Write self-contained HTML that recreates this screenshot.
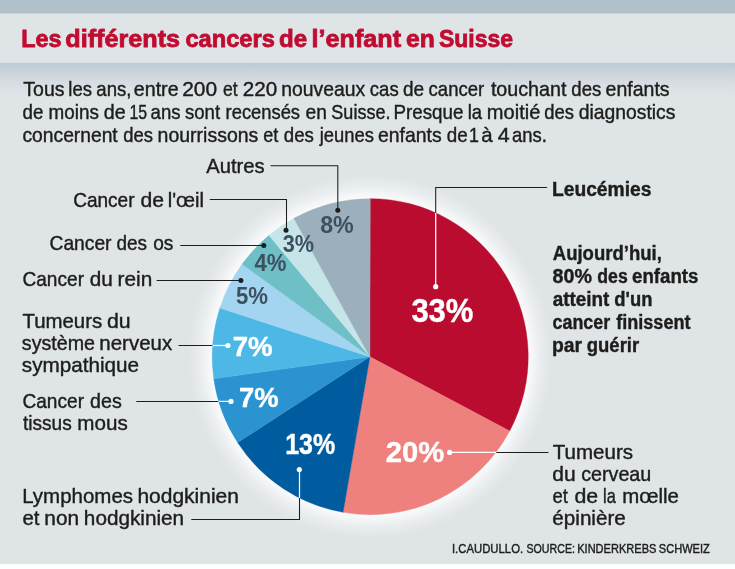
<!DOCTYPE html>
<html lang="fr"><head><meta charset="utf-8"><title>Les différents cancers de l’enfant en Suisse</title>
<style>
html,body{margin:0;padding:0;background:#ffffff;}
body{width:735px;height:569px;overflow:hidden;}
svg{display:block;}
text{font-family:"Liberation Sans",Arial,sans-serif;}
</style></head><body>
<svg width="735" height="569" viewBox="0 0 735 569">
<defs>
<linearGradient id="bg" x1="0" y1="0" x2="0" y2="1">
<stop offset="0" stop-color="#bccad3"/><stop offset="0.25" stop-color="#c9d2d9"/><stop offset="0.55" stop-color="#d6dce1"/><stop offset="0.85" stop-color="#dde2e6"/><stop offset="1" stop-color="#dfe4e7"/>
</linearGradient>
<radialGradient id="glow" cx="370.2" cy="356.65" r="182.0" gradientUnits="userSpaceOnUse">
<stop offset="0.8681" stop-color="#ffffff" stop-opacity="0.85"/>
<stop offset="0.9341" stop-color="#ffffff" stop-opacity="0.35"/>
<stop offset="1" stop-color="#ffffff" stop-opacity="0"/>
</radialGradient>
</defs>
<rect x="0" y="0" width="735" height="569" fill="#ffffff"/>
<rect x="0" y="0" width="735" height="564" fill="#dfe4e7"/>
<rect x="0" y="62.6" width="735" height="34.4" fill="url(#bg)"/>
<rect x="0" y="0" width="735" height="13.7" fill="#b0c1ca"/>
<rect x="0" y="13.7" width="735" height="49" fill="#dfe4e7"/>
<circle cx="370.2" cy="356.65" r="182.0" fill="url(#glow)"/>
<path d="M369.9 356.85L370.20 198.65A158.0 158.0 0 0 1 509.64 430.95Z" fill="#ba0c2f" stroke="#ba0c2f" stroke-width="0.4"/>
<path d="M369.9 356.85L509.64 430.95A158.0 158.0 0 0 1 343.04 512.30Z" fill="#ee807e" stroke="#ee807e" stroke-width="0.4"/>
<path d="M369.9 356.85L343.04 512.30A158.0 158.0 0 0 1 237.62 442.59Z" fill="#005b9f" stroke="#005b9f" stroke-width="0.4"/>
<path d="M369.9 356.85L237.62 442.59A158.0 158.0 0 0 1 213.75 378.75Z" fill="#2b93cf" stroke="#2b93cf" stroke-width="0.4"/>
<path d="M369.9 356.85L213.75 378.75A158.0 158.0 0 0 1 219.85 308.09Z" fill="#4db8e6" stroke="#4db8e6" stroke-width="0.4"/>
<path d="M369.9 356.85L219.85 308.09A158.0 158.0 0 0 1 242.13 264.11Z" fill="#a3d4f0" stroke="#a3d4f0" stroke-width="0.4"/>
<path d="M369.9 356.85L242.13 264.11A158.0 158.0 0 0 1 268.96 235.35Z" fill="#6fbfc6" stroke="#6fbfc6" stroke-width="0.4"/>
<path d="M369.9 356.85L268.96 235.35A158.0 158.0 0 0 1 293.84 218.33Z" fill="#c5e5e8" stroke="#c5e5e8" stroke-width="0.4"/>
<path d="M369.9 356.85L293.84 218.33A158.0 158.0 0 0 1 370.20 198.65Z" fill="#9bb0bc" stroke="#9bb0bc" stroke-width="0.4"/>

<g fill="none" stroke-width="1.05" stroke="#1d1d1b">
<path d="M270.5 165.7H337.8V210.3"/>
<path d="M209.8 199.5H286.5V230"/>
<path d="M180.3 245.5H263.8"/>
<path d="M156.6 280.4H240.9"/>
<path d="M178.5 345.5H212.6"/>
<path d="M136.3 401.4H218.5"/>
<path d="M191.3 519.4H299.5V498"/>
<path d="M547.1 187.4H435.7V213"/>
<path d="M548.4 452.4H496.2"/>
</g>
<g fill="none" stroke-width="1.25" stroke="#fff">
<path d="M212.6 345.5H228"/>
<path d="M218.5 401.4H231"/>
<path d="M299.5 498V469"/>
<path d="M435.7 213V286.7"/>
<path d="M496.2 452.4H449.6"/>
</g>
<g fill="#1d1d1b">
<circle cx="337.8" cy="210.3" r="2.5"/><circle cx="286.0" cy="230.3" r="2.5"/><circle cx="263.8" cy="245.5" r="2.5"/><circle cx="240.9" cy="280.5" r="2.5"/>
</g>
<g fill="#fff">
<circle cx="227.9" cy="345.5" r="2.6"/><circle cx="231" cy="401.4" r="2.6"/><circle cx="299.3" cy="469.5" r="2.6"/><circle cx="435.7" cy="286.7" r="2.6"/><circle cx="449.6" cy="452.4" r="2.6"/>
</g>

<text y="46.90" font-size="24.5" fill="#c10b30" font-weight="700" stroke="#c10b30" stroke-width="0.8"><tspan x="21.23" textLength="40.33" lengthAdjust="spacingAndGlyphs">Les</tspan> <tspan x="65.27" textLength="114.77" lengthAdjust="spacingAndGlyphs">différents</tspan> <tspan x="185.38" textLength="89.49" lengthAdjust="spacingAndGlyphs">cancers</tspan> <tspan x="279.11" textLength="28.11" lengthAdjust="spacingAndGlyphs">de</tspan> <tspan x="311.64" textLength="89.46" lengthAdjust="spacingAndGlyphs">l’enfant</tspan> <tspan x="406.14" textLength="28.79" lengthAdjust="spacingAndGlyphs">en</tspan> <tspan x="438.93" textLength="74.05" lengthAdjust="spacingAndGlyphs">Suisse</tspan></text>
<text y="95.80" font-size="19.8" fill="#1d1d1b" stroke="#1d1d1b" stroke-width="0.4"><tspan x="23.37" textLength="41.14" lengthAdjust="spacingAndGlyphs">Tous</tspan> <tspan x="68.36" textLength="23.61" lengthAdjust="spacingAndGlyphs">les</tspan> <tspan x="96.32" textLength="35.16" lengthAdjust="spacingAndGlyphs">ans,</tspan> <tspan x="133.77" textLength="44.80" lengthAdjust="spacingAndGlyphs">entre</tspan> <tspan x="182.26" textLength="34.87" lengthAdjust="spacingAndGlyphs">200</tspan> <tspan x="223.06" textLength="14.66" lengthAdjust="spacingAndGlyphs">et</tspan> <tspan x="242.77" textLength="34.45" lengthAdjust="spacingAndGlyphs">220</tspan> <tspan x="281.32" textLength="83.89" lengthAdjust="spacingAndGlyphs">nouveaux</tspan> <tspan x="369.82" textLength="28.85" lengthAdjust="spacingAndGlyphs">cas</tspan> <tspan x="403.00" textLength="21.14" lengthAdjust="spacingAndGlyphs">de</tspan> <tspan x="428.62" textLength="55.60" lengthAdjust="spacingAndGlyphs">cancer</tspan> <tspan x="490.90" textLength="75.52" lengthAdjust="spacingAndGlyphs">touchant</tspan> <tspan x="571.32" textLength="29.95" lengthAdjust="spacingAndGlyphs">des</tspan> <tspan x="605.58" textLength="64.03" lengthAdjust="spacingAndGlyphs">enfants</tspan></text>
<text y="119.10" font-size="19.8" fill="#1d1d1b" stroke="#1d1d1b" stroke-width="0.4"><tspan x="22.51" textLength="20.82" lengthAdjust="spacingAndGlyphs">de</tspan> <tspan x="48.56" textLength="50.31" lengthAdjust="spacingAndGlyphs">moins</tspan> <tspan x="103.77" textLength="21.90" lengthAdjust="spacingAndGlyphs">de</tspan> <tspan x="129.39" textLength="17.68" lengthAdjust="spacingAndGlyphs">15</tspan> <tspan x="150.62" textLength="29.95" lengthAdjust="spacingAndGlyphs">ans</tspan> <tspan x="184.98" textLength="35.15" lengthAdjust="spacingAndGlyphs">sont</tspan> <tspan x="225.59" textLength="74.47" lengthAdjust="spacingAndGlyphs">recensés</tspan> <tspan x="305.59" textLength="21.36" lengthAdjust="spacingAndGlyphs">en</tspan> <tspan x="331.37" textLength="59.07" lengthAdjust="spacingAndGlyphs">Suisse.</tspan> <tspan x="393.56" textLength="69.88" lengthAdjust="spacingAndGlyphs">Presque</tspan> <tspan x="467.67" textLength="14.34" lengthAdjust="spacingAndGlyphs">la</tspan> <tspan x="486.88" textLength="53.52" lengthAdjust="spacingAndGlyphs">moitié</tspan> <tspan x="544.23" textLength="29.74" lengthAdjust="spacingAndGlyphs">des</tspan> <tspan x="578.79" textLength="96.61" lengthAdjust="spacingAndGlyphs">diagnostics</tspan></text>
<text y="142.40" font-size="19.8" fill="#1d1d1b" stroke="#1d1d1b" stroke-width="0.4"><tspan x="22.49" textLength="95.24" lengthAdjust="spacingAndGlyphs">concernent</tspan> <tspan x="123.13" textLength="29.74" lengthAdjust="spacingAndGlyphs">des</tspan> <tspan x="157.61" textLength="100.69" lengthAdjust="spacingAndGlyphs">nourrissons</tspan> <tspan x="263.14" textLength="15.09" lengthAdjust="spacingAndGlyphs">et</tspan> <tspan x="283.82" textLength="30.06" lengthAdjust="spacingAndGlyphs">des</tspan> <tspan x="319.74" textLength="54.12" lengthAdjust="spacingAndGlyphs">jeunes</tspan> <tspan x="377.99" textLength="63.62" lengthAdjust="spacingAndGlyphs">enfants</tspan> <tspan x="446.81" textLength="20.92" lengthAdjust="spacingAndGlyphs">de</tspan> <tspan x="468.94" textLength="9.94" lengthAdjust="spacingAndGlyphs">1</tspan> <tspan x="481.34" textLength="11.36" lengthAdjust="spacingAndGlyphs">à</tspan> <tspan x="497.71" textLength="11.92" lengthAdjust="spacingAndGlyphs">4</tspan> <tspan x="512.03" textLength="34.86" lengthAdjust="spacingAndGlyphs">ans.</tspan></text>
<text y="172.70" font-size="20.3" fill="#1d1d1b" stroke="#1d1d1b" stroke-width="0.4"><tspan x="206.16" textLength="58.47" lengthAdjust="spacingAndGlyphs">Autres</tspan></text>
<text y="207.00" font-size="20.3" fill="#1d1d1b" stroke="#1d1d1b" stroke-width="0.4"><tspan x="73.23" textLength="61.29" lengthAdjust="spacingAndGlyphs">Cancer</tspan> <tspan x="140.61" textLength="23.53" lengthAdjust="spacingAndGlyphs">de</tspan> <tspan x="167.75" textLength="36.31" lengthAdjust="spacingAndGlyphs">l'œil</tspan></text>
<text y="250.00" font-size="20.3" fill="#1d1d1b" stroke="#1d1d1b" stroke-width="0.4"><tspan x="49.52" textLength="62.00" lengthAdjust="spacingAndGlyphs">Cancer</tspan> <tspan x="116.50" textLength="30.59" lengthAdjust="spacingAndGlyphs">des</tspan> <tspan x="153.20" textLength="20.19" lengthAdjust="spacingAndGlyphs">os</tspan></text>
<text y="285.80" font-size="20.3" fill="#1d1d1b" stroke="#1d1d1b" stroke-width="0.4"><tspan x="22.43" textLength="61.59" lengthAdjust="spacingAndGlyphs">Cancer</tspan> <tspan x="89.83" textLength="23.04" lengthAdjust="spacingAndGlyphs">du</tspan> <tspan x="117.63" textLength="34.63" lengthAdjust="spacingAndGlyphs">rein</tspan></text>
<text y="327.70" font-size="20.3" fill="#1d1d1b" stroke="#1d1d1b" stroke-width="0.4"><tspan x="22.45" textLength="79.79" lengthAdjust="spacingAndGlyphs">Tumeurs</tspan> <tspan x="106.90" textLength="23.71" lengthAdjust="spacingAndGlyphs">du</tspan></text>
<text y="349.60" font-size="20.3" fill="#1d1d1b" stroke="#1d1d1b" stroke-width="0.4"><tspan x="21.85" textLength="73.12" lengthAdjust="spacingAndGlyphs">système</tspan> <tspan x="99.35" textLength="72.77" lengthAdjust="spacingAndGlyphs">nerveux</tspan></text>
<text y="371.50" font-size="20.3" fill="#1d1d1b" stroke="#1d1d1b" stroke-width="0.4"><tspan x="21.82" textLength="117.19" lengthAdjust="spacingAndGlyphs">sympathique</tspan></text>
<text y="407.60" font-size="20.3" fill="#1d1d1b" stroke="#1d1d1b" stroke-width="0.4"><tspan x="22.43" textLength="61.59" lengthAdjust="spacingAndGlyphs">Cancer</tspan> <tspan x="90.08" textLength="31.64" lengthAdjust="spacingAndGlyphs">des</tspan></text>
<text y="429.50" font-size="20.3" fill="#1d1d1b" stroke="#1d1d1b" stroke-width="0.4"><tspan x="22.91" textLength="48.78" lengthAdjust="spacingAndGlyphs">tissus</tspan> <tspan x="77.34" textLength="50.41" lengthAdjust="spacingAndGlyphs">mous</tspan></text>
<text y="503.10" font-size="20.3" fill="#1d1d1b" stroke="#1d1d1b" stroke-width="0.4"><tspan x="22.22" textLength="110.81" lengthAdjust="spacingAndGlyphs">Lymphomes</tspan> <tspan x="137.45" textLength="101.42" lengthAdjust="spacingAndGlyphs">hodgkinien</tspan></text>
<text y="524.80" font-size="20.3" fill="#1d1d1b" stroke="#1d1d1b" stroke-width="0.4"><tspan x="22.54" textLength="17.00" lengthAdjust="spacingAndGlyphs">et</tspan> <tspan x="44.33" textLength="34.74" lengthAdjust="spacingAndGlyphs">non</tspan> <tspan x="83.87" textLength="100.18" lengthAdjust="spacingAndGlyphs">hodgkinien</tspan></text>
<text y="195.60" font-size="20.3" fill="#1d1d1b" font-weight="700" stroke="#1d1d1b" stroke-width="0.4"><tspan x="551.91" textLength="99.59" lengthAdjust="spacingAndGlyphs">Leucémies</tspan></text>
<text y="259.70" font-size="20.3" fill="#1d1d1b" font-weight="700" stroke="#1d1d1b" stroke-width="0.4"><tspan x="552.74" textLength="109.20" lengthAdjust="spacingAndGlyphs">Aujourd’hui,</tspan></text>
<text y="282.80" font-size="20.3" fill="#1d1d1b" font-weight="700" stroke="#1d1d1b" stroke-width="0.4"><tspan x="552.57" textLength="39.35" lengthAdjust="spacingAndGlyphs">80%</tspan> <tspan x="597.28" textLength="30.45" lengthAdjust="spacingAndGlyphs">des</tspan> <tspan x="632.07" textLength="66.40" lengthAdjust="spacingAndGlyphs">enfants</tspan></text>
<text y="305.80" font-size="20.3" fill="#1d1d1b" font-weight="700" stroke="#1d1d1b" stroke-width="0.4"><tspan x="552.65" textLength="56.68" lengthAdjust="spacingAndGlyphs">atteint</tspan> <tspan x="614.35" textLength="38.10" lengthAdjust="spacingAndGlyphs">d'un</tspan></text>
<text y="328.80" font-size="20.3" fill="#1d1d1b" font-weight="700" stroke="#1d1d1b" stroke-width="0.4"><tspan x="552.50" textLength="57.68" lengthAdjust="spacingAndGlyphs">cancer</tspan> <tspan x="616.19" textLength="74.32" lengthAdjust="spacingAndGlyphs">finissent</tspan></text>
<text y="351.70" font-size="20.3" fill="#1d1d1b" font-weight="700" stroke="#1d1d1b" stroke-width="0.4"><tspan x="551.92" textLength="30.07" lengthAdjust="spacingAndGlyphs">par</tspan> <tspan x="586.74" textLength="52.44" lengthAdjust="spacingAndGlyphs">guérir</tspan></text>
<text y="458.80" font-size="20.3" fill="#1d1d1b" stroke="#1d1d1b" stroke-width="0.4"><tspan x="552.75" textLength="80.30" lengthAdjust="spacingAndGlyphs">Tumeurs</tspan></text>
<text y="480.70" font-size="20.3" fill="#1d1d1b" stroke="#1d1d1b" stroke-width="0.4"><tspan x="552.32" textLength="23.38" lengthAdjust="spacingAndGlyphs">du</tspan> <tspan x="581.17" textLength="70.14" lengthAdjust="spacingAndGlyphs">cerveau</tspan></text>
<text y="502.60" font-size="20.3" fill="#1d1d1b" stroke="#1d1d1b" stroke-width="0.4"><tspan x="552.42" textLength="15.40" lengthAdjust="spacingAndGlyphs">et</tspan> <tspan x="574.50" textLength="23.74" lengthAdjust="spacingAndGlyphs">de</tspan> <tspan x="603.11" textLength="12.70" lengthAdjust="spacingAndGlyphs">la</tspan> <tspan x="622.15" textLength="56.65" lengthAdjust="spacingAndGlyphs">mœlle</tspan></text>
<text y="524.80" font-size="20.3" fill="#1d1d1b" stroke="#1d1d1b" stroke-width="0.4"><tspan x="552.33" textLength="73.48" lengthAdjust="spacingAndGlyphs">épinière</tspan></text>
<text y="553.30" font-size="12.4" fill="#1d1d1b" stroke="#1d1d1b" stroke-width="0.4"><tspan x="451.96" textLength="71.18" lengthAdjust="spacingAndGlyphs">I.CAUDULLO.</tspan> <tspan x="526.51" textLength="48.46" lengthAdjust="spacingAndGlyphs">SOURCE:</tspan> <tspan x="577.19" textLength="79.21" lengthAdjust="spacingAndGlyphs">KINDERKREBS</tspan> <tspan x="658.79" textLength="51.05" lengthAdjust="spacingAndGlyphs">SCHWEIZ</tspan></text>
<text y="321.70" font-size="33.2" fill="#fff" font-weight="700" stroke="#fff" stroke-width="0.4"><tspan x="411.39" textLength="62.03" lengthAdjust="spacingAndGlyphs">33%</tspan></text>
<text y="461.70" font-size="28.8" fill="#fff" font-weight="700" stroke="#fff" stroke-width="0.4"><tspan x="385.78" textLength="58.50" lengthAdjust="spacingAndGlyphs">20%</tspan></text>
<text y="453.60" font-size="28.8" fill="#fff" font-weight="700" stroke="#fff" stroke-width="0.4"><tspan x="285.23" textLength="50.04" lengthAdjust="spacingAndGlyphs">13%</tspan></text>
<text y="407.40" font-size="28.2" fill="#fff" font-weight="700" stroke="#fff" stroke-width="0.4"><tspan x="239.12" textLength="39.60" lengthAdjust="spacingAndGlyphs">7%</tspan></text>
<text y="355.60" font-size="28.2" fill="#fff" font-weight="700" stroke="#fff" stroke-width="0.4"><tspan x="232.71" textLength="39.91" lengthAdjust="spacingAndGlyphs">7%</tspan></text>
<text y="303.70" font-size="23.9" fill="#3e5060" font-weight="700" ><tspan x="235.91" textLength="32.07" lengthAdjust="spacingAndGlyphs">5%</tspan></text>
<text y="270.70" font-size="23.9" fill="#3e5060" font-weight="700" ><tspan x="254.47" textLength="32.02" lengthAdjust="spacingAndGlyphs">4%</tspan></text>
<text y="251.70" font-size="23.9" fill="#3e5060" font-weight="700" ><tspan x="282.70" textLength="31.37" lengthAdjust="spacingAndGlyphs">3%</tspan></text>
<text y="232.50" font-size="23.9" fill="#3e5060" font-weight="700" ><tspan x="320.16" textLength="33.55" lengthAdjust="spacingAndGlyphs">8%</tspan></text>
</svg>
</body></html>
